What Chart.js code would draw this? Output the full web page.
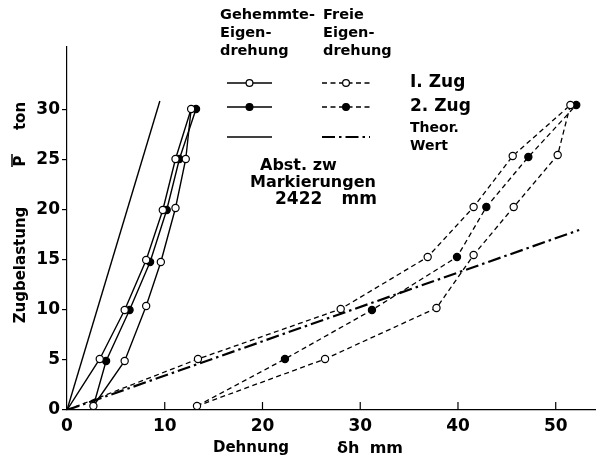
<!DOCTYPE html>
<html>
<head>
<meta charset="utf-8">
<script src="https://cdn.jsdelivr.net/npm/chart.js@4"></script>
<style>
  html, body { margin: 0; padding: 0; background: #fff; }
  #wrap { width: 601px; height: 464px; }
</style>
</head>
<body>
<div id="wrap"><canvas id="zug" width="601" height="464"></canvas></div>
<script>
// --- Werte aus dem Diagramm (Dehnung in mm, Zugbelastung in ton) ---
const xTicks = [0, 10, 20, 30, 40, 50];
const yTicks = [0, 5, 10, 15, 20, 25, 30];

// gehemmte Eigendrehung (ausgezogen)
const geh1X = [0, 3.35, 5.9, 8.1, 9.8, 11.1, 12.7];
const geh1Y = [0, 5.1, 10, 15, 20, 25.1, 30.1];
const gehRueckX = [12.7, 12.15, 11.1, 9.6, 8.1, 5.9, 2.7];
const gehRueckY = [30.1, 25.1, 20.2, 14.8, 10.4, 4.9, 0.4];
const geh2X = [2.7, 4.0, 6.4, 8.5, 10.2, 11.5, 13.2];
const geh2Y = [0.4, 4.9, 10, 14.8, 20, 25.1, 30.1];
const gehTheorX = [0, 9.5];
const gehTheorY = [0, 30.9];

// freie Eigendrehung (gestrichelt)
const frei1X = [0, 13.4, 28.0, 36.9, 41.6, 45.6, 51.5];
const frei1Y = [0, 5.1, 10.1, 15.3, 20.3, 25.4, 30.5];
const freiRueckX = [51.5, 50.2, 45.7, 41.6, 37.8, 26.4, 13.3];
const freiRueckY = [30.5, 25.5, 20.3, 15.5, 10.2, 5.1, 0.4];
const frei2X = [13.3, 22.3, 31.2, 39.9, 42.9, 47.2, 52.1];
const frei2Y = [0.4, 5.1, 10, 15.3, 20.3, 25.3, 30.5];
const freiTheorX = [0, 52.4];
const freiTheorY = [0, 18.0];

const FONT = '"DejaVu Sans", sans-serif';
const DASH = [5, 3.5];
const DASHDOT = [13, 4, 2.5, 4];

function punkte(xs, ys) {
    return xs.map((x, i) => ({ x: x, y: ys[i] }));
}

// erster Punkt ohne Kreis (Ursprung bzw. schon gezeichnet)
function radien(n) {
    const r = [0];
    for (let i = 1; i < n; i++) r.push(3.6);
    return r;
}

function kurve(xs, ys, offen, dash) {
    return {
        data: punkte(xs, ys),
        showLine: true,
        borderColor: '#000',
        borderWidth: dash ? 1.3 : 1.4,
        borderDash: dash || [],
        pointRadius: radien(xs.length),
        pointBackgroundColor: offen ? '#fff' : '#000',
        pointBorderColor: '#000',
        pointBorderWidth: 1.2
    };
}

function gerade(xs, ys, dash, breite) {
    return {
        data: punkte(xs, ys),
        showLine: true,
        borderColor: '#000',
        borderWidth: breite,
        borderDash: dash,
        pointRadius: 0
    };
}

function text(ctx, s, x, y, size, align) {
    ctx.font = 'bold ' + size + 'px ' + FONT;
    ctx.textAlign = align || 'left';
    ctx.fillText(s, x, y);
}

function probe(ctx, x0, x1, y, dash, breite, kreis) {
    ctx.save();
    ctx.lineWidth = breite;
    ctx.setLineDash(dash);
    ctx.beginPath(); ctx.moveTo(x0, y); ctx.lineTo(x1, y); ctx.stroke();
    ctx.restore();
    if (kreis) {
        const cx = (x0 + x1) / 2;
        ctx.beginPath(); ctx.arc(cx, y, 3.4, 0, Math.PI * 2);
        ctx.fillStyle = kreis === 'offen' ? '#fff' : '#000';
        ctx.fill();
        ctx.lineWidth = 1.2; ctx.stroke();
        ctx.fillStyle = '#000';
    }
}

// Beschriftung, Legende und Striche an der x-Achse
const beschriftung = {
    id: 'beschriftung',
    afterDraw(chart) {
        const ctx = chart.ctx;
        const sx = chart.scales.x, sy = chart.scales.y;
        ctx.save();
        ctx.fillStyle = '#000';
        ctx.strokeStyle = '#000';

        ctx.lineWidth = 1.2;
        xTicks.slice(1).forEach(v => {
            const px = sx.getPixelForValue(v);
            ctx.beginPath(); ctx.moveTo(px, sy.bottom); ctx.lineTo(px, sy.bottom - 8); ctx.stroke();
        });

        ctx.textBaseline = 'middle';
        text(ctx, 'Gehemmte-', 220, 15, 14.5);
        text(ctx, 'Eigen-', 220, 33, 14.5);
        text(ctx, 'drehung', 220, 51, 14.5);
        text(ctx, 'Freie', 323, 15, 14.5);
        text(ctx, 'Eigen-', 323, 33, 14.5);
        text(ctx, 'drehung', 323, 51, 14.5);

        probe(ctx, 227, 272, 83, [], 1.4, 'offen');
        probe(ctx, 227, 272, 107, [], 1.4, 'voll');
        probe(ctx, 227, 272, 137, [], 1.4, null);
        probe(ctx, 322, 370, 83, DASH, 1.3, 'offen');
        probe(ctx, 322, 370, 107, DASH, 1.3, 'voll');
        probe(ctx, 322, 370, 137, DASHDOT, 2.2, null);

        text(ctx, 'I. Zug', 410, 83, 17);
        text(ctx, '2. Zug', 410, 107, 17);
        text(ctx, 'Theor.', 410, 128, 14);
        text(ctx, 'Wert', 410, 146, 14);

        text(ctx, 'Abst. zw', 260, 166, 16);
        text(ctx, 'Markierungen', 250, 183, 16);
        text(ctx, '2422', 275, 200, 17);
        text(ctx, 'mm', 377, 200, 17, 'right');

        text(ctx, 'Dehnung', 213, 448, 15);
        text(ctx, 'δh', 337, 449, 16);
        text(ctx, 'mm', 403, 449, 16, 'right');

        ctx.save();
        ctx.translate(21, 0);
        ctx.rotate(-Math.PI / 2);
        text(ctx, 'Zugbelastung', -265, 0, 15, 'center');
        text(ctx, 'P', -161, 0, 15, 'center');
        text(ctx, 'ton', -116, 0, 15, 'center');
        ctx.restore();
        ctx.lineWidth = 1.5;
        ctx.beginPath(); ctx.moveTo(12, 154); ctx.lineTo(12, 167); ctx.stroke();

        ctx.restore();
    }
};

new Chart(document.getElementById('zug'), {
    type: 'scatter',
    data: {
        datasets: [
            kurve(geh1X, geh1Y, true),
            kurve(gehRueckX, gehRueckY, true),
            kurve(geh2X, geh2Y, false),
            gerade(gehTheorX, gehTheorY, [], 1.4),
            kurve(frei1X, frei1Y, true, DASH),
            kurve(freiRueckX, freiRueckY, true, DASH),
            kurve(frei2X, frei2Y, false, DASH),
            gerade(freiTheorX, freiTheorY, DASHDOT, 2.2)
        ]
    },
    options: {
        responsive: false,
        animation: false,
        layout: { padding: { top: 47, right: 1, left: 0, bottom: 0 } },
        plugins: { legend: { display: false }, tooltip: { enabled: false } },
        scales: {
            x: {
                type: 'linear',
                min: 0,
                max: 54.1,
                afterFit: s => { s.height = 54; },
                afterBuildTicks: s => { s.ticks = xTicks.map(v => ({ value: v })); },
                grid: { display: false },
                border: { color: '#000', width: 1.2 },
                ticks: {
                    color: '#000',
                    padding: -2,
                    maxRotation: 0,
                    font: { family: FONT, size: 17, weight: 'bold' }
                }
            },
            y: {
                type: 'linear',
                min: 0,
                max: 36.3,
                afterFit: s => { s.width = 67; },
                afterBuildTicks: s => { s.ticks = yTicks.map(v => ({ value: v })); },
                grid: { drawOnChartArea: false, drawTicks: true, tickLength: 5, color: '#000', lineWidth: 1.2 },
                border: { color: '#000', width: 1.2 },
                ticks: {
                    color: '#000',
                    padding: 2,
                    font: { family: FONT, size: 17, weight: 'bold' }
                }
            }
        }
    },
    plugins: [beschriftung]
});
</script>
</body>
</html>
